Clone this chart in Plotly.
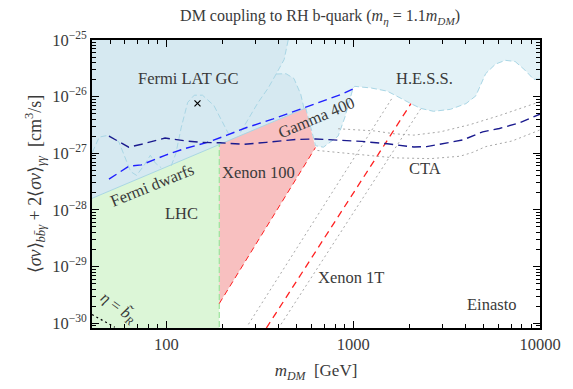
import numpy as np
import plotly.graph_objects as go

# ---------------- data (m_DM in GeV, <sigma v> in cm^3/s) ----------------
# Fermi dwarfs limit (straight in log-log)
dwarf_m = [40, 557]
dwarf_s = [1.6e-28, 6.3e-27]
dwarf_at_lhc = 1.44e-27          # dwarfs limit at the LHC mass bound

# LHC bound
lhc_m = 192

# H.E.S.S. lower boundary (right to left)
hess_m = [10000, 9265, 8309, 7360, 6520, 5776, 5116, 4532, 4016, 3311, 2692, 2299,
          2037, 1719, 1523, 1250, 1020, 1000, 904, 831, 693, 629, 557]
hess_s = [2.07e-26, 2.01e-26, 2.94e-26, 4.17e-26, 4.38e-26, 3.75e-26, 2.54e-26, 1.03e-26,
          7.53e-27, 5.96e-27, 5.51e-27, 6.2e-27, 7.53e-27, 1.03e-26, 1.25e-26, 1.42e-26,
          1.52e-26, 1.43e-26, 4.37e-27, 2.01e-27, 1.28e-27, 1.36e-27, 6.32e-27]

# Fermi LAT GC envelope (top to bottom)
gc_env_m = [449, 427, 387, 437, 482, 524, 546]
gc_env_s = [1e-25, 4.51e-26, 2.51e-26, 2.54e-26, 2.09e-26, 1.10e-26, 6.13e-27]

# inner Fermi LAT GC contours
gc_line1_m = [449, 427, 387, 350, 310, 263.6, 248.1]
gc_line1_s = [1e-25, 4.51e-26, 2.51e-26, 1.40e-26, 7.92e-27, 3.20e-27, 2.28e-27]
gc_bump_m = [106.2, 112.5, 120, 130.1, 141.1, 156.1, 179.7, 203, 215.7]
gc_bump_s = [6.01e-28, 9.96e-28, 2.81e-27, 7.92e-27, 1.06e-26, 1.06e-26, 6.97e-27, 3.20e-27, 2.17e-27]
gc_wig_m = [40.2, 43.7, 49.3, 55.7, 60.6, 64.4, 69.3, 76.3, 82.1, 87.2, 93.8]
gc_wig_s = [1.04e-27, 1.93e-27, 2.09e-27, 1.59e-27, 7.89e-28, 4.75e-28, 4.07e-28, 6.25e-28,
            9.21e-28, 6.76e-28, 5.56e-28]
best_fit_m = [146.8]
best_fit_s = [7.62e-27]

# Xenon 100 / Xenon 1T
xe100_m = [192, 628]
xe100_s = [2.22e-30, 1.26e-27]
xe1t_m = [343, 2037]
xe1t_s = [8.2e-31, 7.5e-27]
xe1t_lo_m = [275, 1618]
xe1t_lo_s = [9.55e-31, 9.5e-27]
xe1t_hi_m = [411, 2293]
xe1t_hi_s = [9.55e-31, 6.02e-27]

# Gamma 400 projection
g400_m = [49.3, 62.9, 73.6, 98.4, 125.5, 165.8, 211.2, 269.2, 373.4, 493.4, 684.4, 871.9, 1000]
g400_s = [3.49e-28, 5.89e-28, 6.25e-28, 9.21e-28, 1.21e-27, 1.56e-27, 2.09e-27, 2.85e-27,
          4.04e-27, 5.62e-27, 8.30e-27, 1.11e-26, 1.375e-26]

# CTA projection + band
cta_m = [49.3, 62.9, 73.6, 98.4, 127.0, 152.2, 194.1, 259.6, 342.9, 493.4, 628.6, 801.3,
         1111, 1523, 2112, 2473, 3871, 4935, 6062, 7726, 10000]
cta_s = [2.01e-27, 1.28e-27, 1.44e-27, 1.86e-27, 1.65e-27, 1.56e-27, 1.53e-27, 1.44e-27,
         1.56e-27, 1.75e-27, 1.79e-27, 1.72e-27, 1.62e-27, 1.47e-27, 1.29e-27, 1.31e-27,
         1.72e-27, 2.39e-27, 2.74e-27, 3.42e-27, 4.91e-27]
cta_up_m = [831, 1020, 1301, 1658, 2112, 2930, 4214, 6062, 10000]
cta_up_s = [2.71e-27, 2.63e-27, 2.48e-27, 2.21e-27, 2.09e-27, 2.39e-27, 3.20e-27, 4.63e-27, 8.14e-27]
cta_lo_m = [644, 872, 1301, 1658, 2596, 3734, 4370, 5116, 7098, 10000]
cta_lo_s = [1.12e-27, 1.02e-27, 8.97e-28, 8.30e-28, 8.04e-28, 8.87e-28, 1.04e-27, 1.31e-27,
            1.65e-27, 2.58e-27]

# eta = b_R boundary
eta_m = [40, 53]
eta_s = [1.42e-30, 8.5e-31]

# axis extents
m_min, m_max = 40, 10000
s_min, s_max = 8.22e-31, 1e-25
xtick_vals = [100, 1000, 10000]
xtick_text = ["100", "1000", "10000"]
ytick_vals = [1e-30, 1e-29, 1e-28, 1e-27, 1e-26, 1e-25]
ytick_text = ["10<sup>−30</sup>", "10<sup>−29</sup>", "10<sup>−28</sup>",
              "10<sup>−27</sup>", "10<sup>−26</sup>", "10<sup>−25</sup>"]

# ---------------- figure ----------------
FONT = "Liberation Serif"
TXT = "#3a3a3a"
LB = "#a9d6e5"

fig = go.Figure()

def poly(xs, ys, color):
    fig.add_trace(go.Scatter(x=xs, y=ys, fill="toself", fillcolor=color, mode="lines",
                             line=dict(width=0), hoverinfo="skip", showlegend=False))

def line(xs, ys, color, width=1.2, dash="solid"):
    fig.add_trace(go.Scatter(x=xs, y=ys, mode="lines", line=dict(color=color, width=width, dash=dash),
                             hoverinfo="skip", showlegend=False))

# H.E.S.S. excluded region (light)
poly([m_min, m_max] + hess_m + [dwarf_m[0], m_min],
     [s_max, s_max] + hess_s + [dwarf_s[0], s_max], "#e3f2f7")
# Fermi LAT GC (darker)
poly([m_min] + gc_env_m + [dwarf_m[0]],
     [s_max] + gc_env_s + [dwarf_s[0]], "#d6e9f1")
# LHC
poly([m_min, lhc_m, lhc_m, m_min], [s_min * 0.5, s_min * 0.5, dwarf_at_lhc, dwarf_s[0]], "#dcf6d7")
# Xenon 100
poly([lhc_m, dwarf_m[1], xe100_m[1], xe100_m[0]],
     [dwarf_at_lhc, dwarf_s[1], xe100_s[1], xe100_s[0]], "#f8c0c0")

# boundaries
line(dwarf_m, dwarf_s, LB, 1.0)
line(hess_m, hess_s, LB, 1.0, "6px,3px")
line(gc_line1_m, gc_line1_s, LB, 1.0, "6px,3px")
line(gc_env_m[2:], gc_env_s[2:], LB, 1.0, "6px,3px")
line(gc_bump_m, gc_bump_s, LB, 1.0, "6px,3px")
line(gc_wig_m, gc_wig_s, LB, 1.0, "6px,3px")
line([lhc_m, lhc_m], [s_min * 0.5, dwarf_at_lhc], "#9be39b", 1.2, "6px,3px")

# direct detection
line(xe100_m, xe100_s, "#ff2020", 1.0, "6px,4px")
line(xe1t_lo_m, xe1t_lo_s, "#a8a8a8", 1.0, "2px,3px")
line(xe1t_hi_m, xe1t_hi_s, "#a8a8a8", 1.0, "2px,3px")
line(xe1t_m, xe1t_s, "#ff2020", 1.3, "7px,5px")

# projections
line(cta_up_m, cta_up_s, "#a8a8a8", 1.0, "2px,3px")
line(cta_lo_m, cta_lo_s, "#a8a8a8", 1.0, "2px,3px")
line(g400_m, g400_s, "#1f1fff", 1.4, "9px,5px")
line(cta_m, cta_s, "#1a1a8e", 1.4, "9px,5px")

line(eta_m, eta_s, "#000000", 1.2, "2px,3px")

fig.add_trace(go.Scatter(x=best_fit_m, y=best_fit_s, mode="markers",
                         marker=dict(symbol="x-thin", size=6, line=dict(color="black", width=1.2)),
                         hoverinfo="skip", showlegend=False))

L = np.log10
def note(text, m, s, size=16.5, angle=0):
    fig.add_annotation(x=L(m), y=L(s), xref="x", yref="y", text=text, showarrow=False,
                       textangle=angle, font=dict(family=FONT, size=size, color=TXT))

note("Fermi LAT GC", 131.7, 2.09e-26)
note("H.E.S.S.", 2413, 2.09e-26)
note("Gamma 400", 637, 4.2e-27, angle=-23)
note("Fermi dwarfs", 83.4, 2.69e-28, angle=-22)
note("LHC", 120.9, 8.7e-29)
note("Xenon 100", 310, 4.52e-28)
note("CTA", 2434, 5.41e-28)
note("Xenon 1T", 972, 6.41e-30)
note("Einasto", 5503, 2.13e-30)
note("<i>η</i> = <i>b̃</i><sub><i>R</i></sub>", 55.0, 1.83e-30, size=16, angle=36)

minor_x = [k * 10 ** d for d in range(1, 4) for k in range(2, 10) if m_min <= k * 10 ** d <= m_max]
minor_y = [k * 10.0 ** d for d in range(-31, -25) for k in range(2, 10) if s_min <= k * 10.0 ** d <= s_max]

axis_common = dict(type="log", showgrid=False, zeroline=False, showline=True, linecolor="black",
                   linewidth=1.6, ticks="inside", ticklen=7, tickwidth=1.2, tickcolor="black",
                   mirror="allticks", tickfont=dict(family=FONT, size=16.5, color=TXT))

fig.update_layout(
    width=573, height=389,
    margin=dict(l=92, r=25, t=39.5, b=48.5),
    paper_bgcolor="white", plot_bgcolor="white",
    title=dict(text="DM coupling to RH b-quark (<i>m</i><sub><i>η</i></sub> = 1.1<i>m</i><sub><i>DM</i></sub>)",
               x=0.5586, xanchor="center", y=0.96, yanchor="middle",
               font=dict(family=FONT, size=16, color=TXT)),
    xaxis=dict(range=[L(m_min), L(m_max)], tickmode="array", tickvals=xtick_vals, ticktext=xtick_text,
               minor=dict(tickmode="array", tickvals=minor_x, ticks="inside", ticklen=4,
                          tickcolor="black", tickwidth=1),
               title=dict(text="<i>m</i><sub><i>DM</i></sub>  [GeV]", standoff=12,
                          font=dict(family=FONT, size=17, color=TXT)),
               **axis_common),
    yaxis=dict(range=[L(s_min), L(s_max)], tickmode="array", tickvals=ytick_vals, ticktext=ytick_text,
               minor=dict(tickmode="array", tickvals=minor_y, ticks="inside", ticklen=4,
                          tickcolor="black", tickwidth=1),
               title=dict(text="⟨<i>σv</i>⟩<sub><i>bb̄γ</i></sub> + 2⟨<i>σv</i>⟩<sub><i>γγ</i></sub>  [cm<sup>3</sup>/s]",
                          standoff=6, font=dict(family=FONT, size=18, color=TXT)),
               **axis_common),
)

fig.write_html("out.html")
